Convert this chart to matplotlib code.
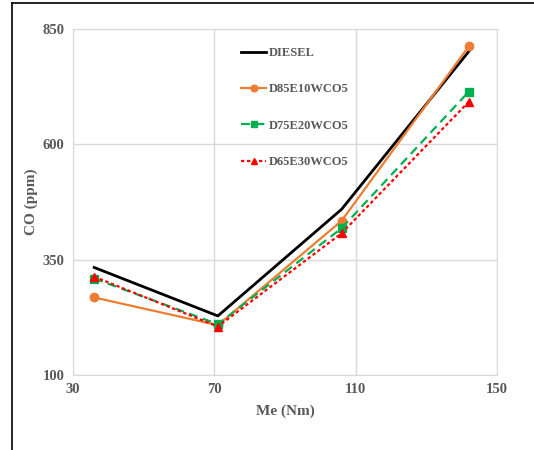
import matplotlib.pyplot as plt
from matplotlib.lines import Line2D

# torque (Nm)
me = [36, 71, 106, 142]

# CO emissions (ppm)
diesel = [333, 228, 459, 801]
d85e10 = [268, 208, 434, 812]
d75e20 = [309, 210, 418, 714]
d65e30 = [313, 205, 407, 692]

grey = '#595959'
plt.rcParams['font.family'] = ['Liberation Serif', 'DejaVu Serif']
plt.rcParams['font.weight'] = 'bold'

fig = plt.figure(figsize=(5.34, 4.5), dpi=100)
ax = fig.add_axes([0.1367, 0.1667, 0.794, 0.769])

ax.plot(me, diesel, color='black', lw=2, label='DIESEL')
ax.plot(me, d85e10, color='#ED7D31', lw=1.6, marker='o', ms=6, label='D85E10WCO5')
ax.plot(me, d75e20, color='#00B050', lw=1.6, ls=(0, (4, 2.5)), marker='s', ms=6, label='D75E20WCO5')
ax.plot(me, d65e30, color='#FF0000', lw=1.6, ls=(0, (1.5, 1.2)), marker='^', ms=6, label='D65E30WCO5')

ax.set_xlim(30, 150)
ax.set_ylim(100, 850)
ax.set_xticks([30, 70, 110, 150])
ax.set_yticks([100, 350, 600, 850])
ax.grid(True, color='#d9d9d9', lw=1)
ax.set_axisbelow(True)
for s in ax.spines.values():
    s.set_color('#d9d9d9')
ax.tick_params(length=0, labelsize=10.5, labelcolor=grey, pad=6)

ax.set_xlabel('Me (Nm)', fontsize=11, fontweight='bold', color=grey, labelpad=6)
ax.set_ylabel('CO (ppm)', fontsize=11, fontweight='bold', color=grey, labelpad=3)

ax.legend(loc='upper left', bbox_to_anchor=(0.37, 0.98), frameon=False,
          fontsize=9, labelcolor=grey, handlelength=2.0, handletextpad=0.2,
          labelspacing=1.95, markerscale=0.8)

# outer frame
fig.add_artist(Line2D([0.023, 0.023], [0, 0.994], color='black', lw=1.2))
fig.add_artist(Line2D([0.023, 1.0], [0.994, 0.994], color='black', lw=1.2))

fig.savefig('out.png', dpi=100)
